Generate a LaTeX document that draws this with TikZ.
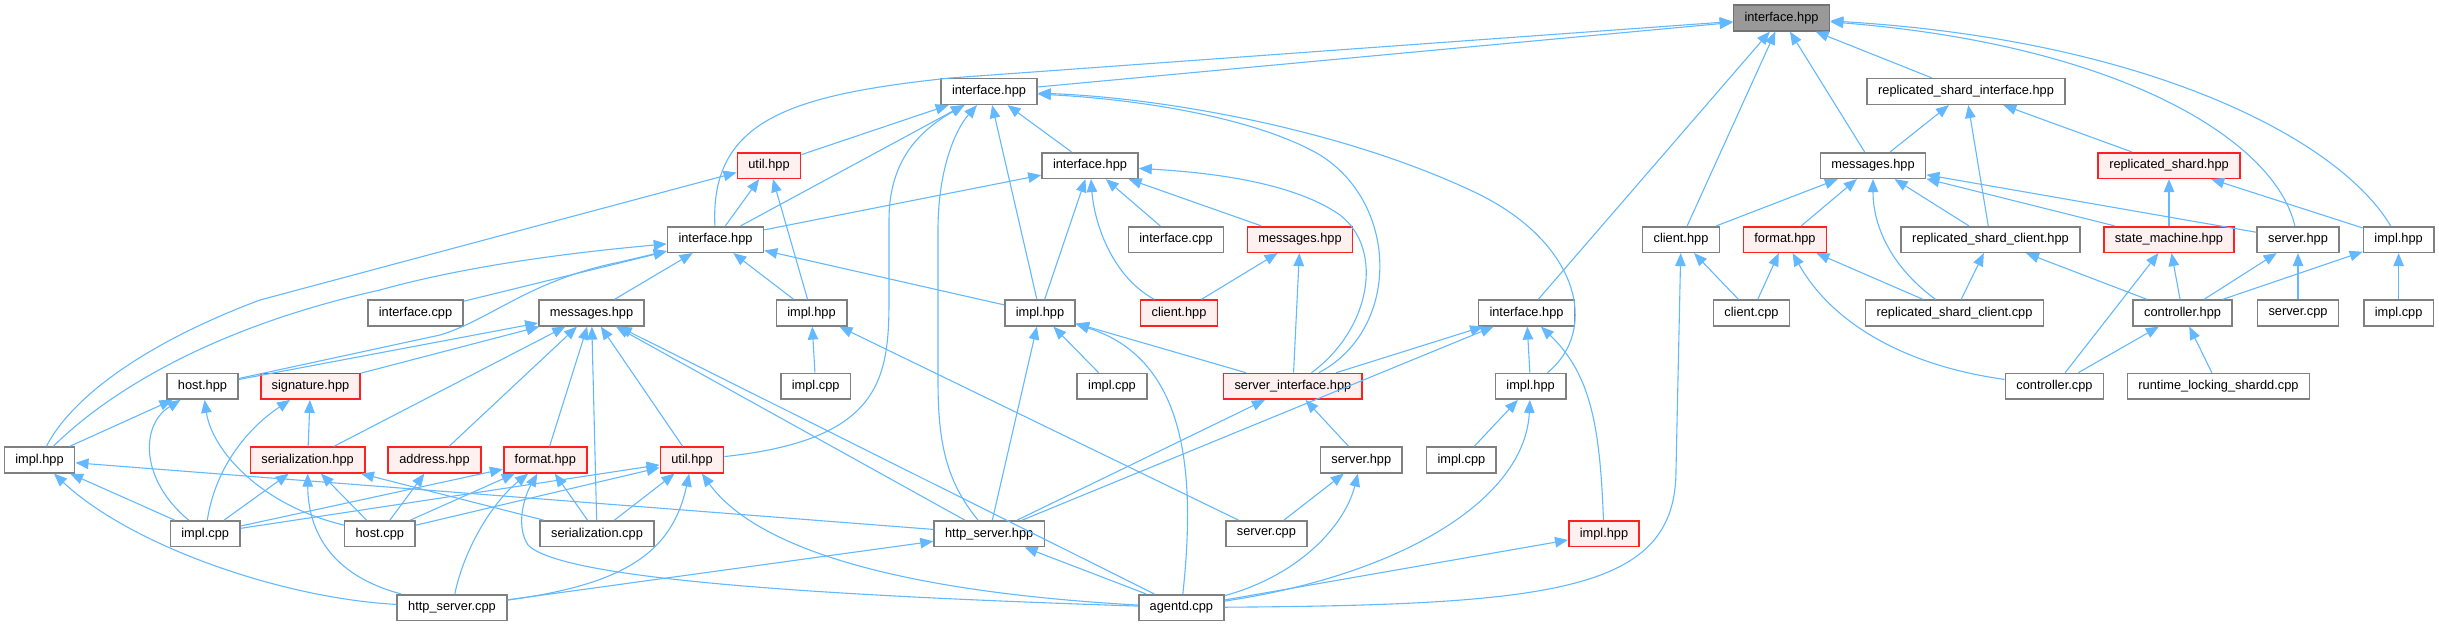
\documentclass[tikz,border=0pt]{standalone}
\usepackage{fontspec}
\setmainfont{Liberation Sans}
\usetikzlibrary{arrows.meta}
\definecolor{nodeborder}{HTML}{808080}
\definecolor{redborder}{HTML}{FF2020}
\definecolor{redfill}{HTML}{FFF0F0}
\definecolor{topfill}{HTML}{999999}
\definecolor{edgec}{HTML}{63B8FF}
\newcommand\nodefont{\fontsize{12.8}{14}\selectfont}
\tikzset{
 nd/.style={draw=nodeborder, fill=white, line width=1.6pt, minimum height=25.6pt, inner xsep=11pt, inner ysep=0pt, font=\nodefont},
 rednd/.style={nd, draw=redborder, fill=redfill},
 topnd/.style={nd, draw=nodeborder!90!black, fill=topfill},
 e/.style={draw=edgec, line width=1.1pt, -{Triangle[length=13pt,width=10.5pt]}},
}
\begin{document}
\begin{tikzpicture}[x=1pt,y=-1pt]
\useasboundingbox (0,0) rectangle (2439,626);
% nodes
\node[topnd] (A) at (1781.5,18) {interface.hpp};
\node[nd] (B) at (989,91.5) {interface.hpp};
\node[nd] (C) at (1966,91.5) {replicated\_shard\_interface.hpp};
\node[rednd] (D) at (769,165.5) {util.hpp};
\node[nd] (E) at (1090,165.5) {interface.hpp};
\node[nd] (F) at (1873,165.5) {messages.hpp};
\node[rednd] (G) at (2169,165.5) {replicated\_shard.hpp};
\node[nd] (H) at (715.5,239.5) {interface.hpp};
\node[nd] (I) at (1176,239.5) {interface.cpp};
\node[rednd] (J) at (1300,239.5) {messages.hpp};
\node[nd] (K) at (1681,239.5) {client.hpp};
\node[rednd] (L) at (1785,239.5) {format.hpp};
\node[nd] (M) at (1990.5,239.5) {replicated\_shard\_client.hpp};
\node[rednd] (N) at (2169,239.5) {state\_machine.hpp};
\node[nd] (O) at (2298,239.5) {server.hpp};
\node[nd] (P) at (2398.6,239.5) {impl.hpp};
\node[nd] (Q) at (415.5,313) {interface.cpp};
\node[nd] (R) at (591.5,313) {messages.hpp};
\node[nd] (S) at (811.5,313) {impl.hpp};
\node[nd] (T) at (1040,313) {impl.hpp};
\node[rednd] (U) at (1179,313) {client.hpp};
\node[nd] (V) at (1526.5,313) {interface.hpp};
\node[nd] (W) at (1751.5,313) {client.cpp};
\node[nd] (X) at (1954.5,313) {replicated\_shard\_client.cpp};
\node[nd] (Y) at (2182.6,313) {controller.hpp};
\node[nd] (Z) at (2298,313) {server.cpp};
\node[nd] (AA) at (2398.6,313) {impl.cpp};
\node[nd] (BB) at (202.5,386.3) {host.hpp};
\node[rednd] (CC) at (310.5,386.3) {signature.hpp};
\node[nd] (DD) at (815.7,386.3) {impl.cpp};
\node[nd] (EE) at (1112,386.3) {impl.cpp};
\node[rednd] (FF) at (1292.9,386.3) {server\_interface.hpp};
\node[nd] (GG) at (1530.6,386.3) {impl.hpp};
\node[nd] (HH) at (2054.5,386.3) {controller.cpp};
\node[nd] (II) at (2218.5,386.3) {runtime\_locking\_shardd.cpp};
\node[nd] (JJ) at (39.5,460) {impl.hpp};
\node[rednd] (KK) at (307.6,460) {serialization.hpp};
\node[rednd] (LL) at (434.5,460) {address.hpp};
\node[rednd] (MM) at (545.3,460) {format.hpp};
\node[rednd] (NN) at (692,460) {util.hpp};
\node[nd] (OO) at (1361.3,460) {server.hpp};
\node[nd] (PP) at (1461.4,460) {impl.cpp};
\node[nd] (QQ) at (205.2,533.7) {impl.cpp};
\node[nd] (RR) at (379.8,533.7) {host.cpp};
\node[nd] (SS) at (597,533.7) {serialization.cpp};
\node[nd] (TT) at (989.2,533.7) {http\_server.hpp};
\node[nd] (UU) at (1266.4,533.7) {server.cpp};
\node[rednd] (VV) at (1604,533.7) {impl.hpp};
\node[nd] (WW) at (452,607.5) {http\_server.cpp};
\node[nd] (XX) at (1181.4,607.5) {agentd.cpp};
% straight edges
\foreach \c/\p in {B/A,C/A,F/A,K/A,V/A,
 D/B,H/B,T/B,E/B,
 F/C,M/C,G/C,
 H/D,S/D,
 H/E,T/E,I/E,J/E,
 L/F,K/F,M/F,N/F,O/F,
 N/G,P/G,
 Q/H,R/H,S/H,T/H,
 U/J,FF/J,
 W/K,W/L,X/L,
 X/M,Y/M,Y/N,HH/N,Y/O,Z/O,Y/P,AA/P,HH/Y,II/Y,
 BB/R,CC/R,KK/R,LL/R,MM/R,SS/R,NN/R,TT/R,XX/R,
 JJ/BB,KK/CC,QQ/JJ,TT/JJ,
 QQ/KK,RR/KK,SS/KK,RR/LL,
 QQ/MM,RR/MM,SS/MM,
 QQ/NN,RR/NN,SS/NN,
 XX/TT,WW/TT,DD/S,UU/S,
 EE/T,TT/T,FF/T,OO/FF,TT/FF,PP/GG,UU/OO,XX/VV,
 FF/V,TT/V,GG/V}
 \draw[e] (\c) -- (\p);
% curved edges
\draw[e] (H) .. controls (710,120) and (790,95) .. (950,78) -- (A);
\draw[e] (O) .. controls (2275,140) and (2120,45) .. (A);
\draw[e] (P) .. controls (2340,140) and (2150,40) .. (A);
\draw[e] (NN) .. controls (880,440) and (889,380) .. (889,300) -- (889,220) .. controls (889,160) and (920,130) .. (B);
\draw[e] (TT) .. controls (945,480) and (938,440) .. (938,380) -- (938,230) .. controls (938,170) and (955,130) .. (B);
\draw[e] (FF) .. controls (1400,330) and (1400,205) .. (1320,155) .. controls (1260,120) and (1150,100) .. (B);
\draw[e] (GG) .. controls (1600,330) and (1580,240) .. (1470,190) .. controls (1330,125) and (1150,97) .. (B);
\draw[e] (FF) .. controls (1370,330) and (1385,250) .. (1340,215) .. controls (1290,180) and (1200,172) .. (E);
\draw[e] (JJ) .. controls (70,400) and (140,345) .. (260,300) -- ([yshift=-7pt]D.west);
\draw[e] (JJ) .. controls (100,400) and (200,330) .. (380,290) .. controls (480,262) and (600,250) .. (H);
\draw[e] (BB) -- (440,335) .. controls (490,320) and (530,280) .. (620,262) -- (H);
\draw[e] (U) .. controls (1110,275) and (1094,220) .. (E);
\draw[e] (XX) .. controls (1560,605) and (1676,590) .. (1676,470) -- (K);
\draw[e] (HH) .. controls (1900,365) and (1830,320) .. (L);
\draw[e] (X) .. controls (1895,270) and (1873,230) .. (F);
\draw[e] (QQ) .. controls (140,480) and (140,425) .. (BB);
\draw[e] (RR) .. controls (260,505) and (212,450) .. (BB);
\draw[e] (QQ) .. controls (215,470) and (245,430) .. (CC);
\draw[e] (WW) .. controls (280,598) and (130,545) .. (JJ);
\draw[e] (WW) .. controls (330,575) and (308,530) .. (KK);
\draw[e] (WW) .. controls (465,545) and (495,500) .. (MM);
\draw[e] (XX) .. controls (800,595) and (560,578) .. (528,545) .. controls (515,525) and (525,495) .. (MM);
\draw[e] (XX) .. controls (870,590) and (750,540) .. (NN);
\draw[e] (WW) .. controls (620,585) and (672,555) .. (NN);
\draw[e] (XX) .. controls (1195,480) and (1190,360) .. (T);
\draw[e] (XX) .. controls (1400,575) and (1525,500) .. (GG);
\draw[e] (XX) .. controls (1300,575) and (1345,525) .. (OO);
\draw[e] (VV) .. controls (1600,430) and (1592,375) .. (V);
\end{tikzpicture}
\end{document}
